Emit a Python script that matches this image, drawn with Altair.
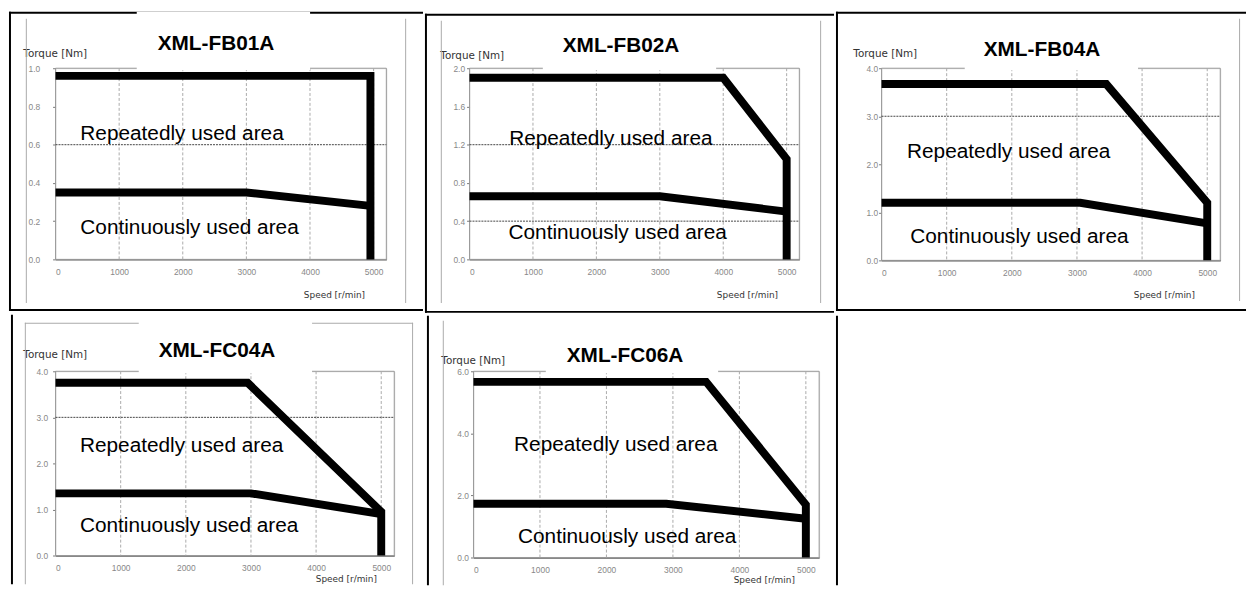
import altair as alt
import pandas as pd

# ---------------- data ----------------
titles = ["XML-FB01A", "XML-FB02A", "XML-FB04A", "XML-FC04A", "XML-FC06A"]

# repeatedly used (peak) torque boundary
rep_speed = [[0, 4950, 4950], [0, 4000, 5000, 5000], [0, 3450, 5000, 5000],
             [0, 2950, 5000, 5000], [0, 3500, 5000, 5000]]
rep_torque = [[0.96, 0.96, 0.0], [1.9, 1.9, 1.05, 0.0], [3.67, 3.67, 1.2, 0.0],
              [3.75, 3.75, 0.95, 0.0], [5.66, 5.66, 1.7, 0.0]]
# continuously used (rated) torque boundary
cont_speed = [[0, 3000, 4950], [0, 3000, 5000], [0, 3050, 5000],
              [0, 3000, 5000], [0, 2900, 5000]]
cont_torque = [[0.35, 0.35, 0.28], [0.66, 0.66, 0.5], [1.2, 1.2, 0.77],
               [1.35, 1.35, 0.9], [1.73, 1.73, 1.25]]

y_max = [1.0, 2.0, 4.0, 4.0, 6.0]
y_step = [0.2, 0.4, 1.0, 1.0, 2.0]
dash_levels = [[0.6], [1.2, 0.4], [3.0], [3.0], []]
grid_speeds = [1000, 2000, 3000, 4000, 5000]
speed_ticks = [0, 1000, 2000, 3000, 4000, 5000]
x_max = 5200

label_rep = "Repeatedly used area"
label_cont = "Continuously used area"
rep_label_speed = [390, 625, 391, 375, 611]
rep_label_torque = [0.625, 1.2, 2.125, 2.245, 3.43]
cont_label_speed = [390, 615, 441, 375, 670]
cont_label_torque = [0.133, 0.217, 0.36, 0.5, 0.48]

y_title = "Torque [Nm]"
x_title = "Speed [r/min]"

# ---------------- layout (pixels) ----------------
W = [334, 333, 342, 342, 349]
H = [193, 193, 194, 186, 188]
L = [47, 45, 46, 45, 47]      # view left inside table cell
T = [57, 55, 57, 57, 56]      # view top inside table cell
CW = [418, 413, 414, 418, 415]
CH = [302, 302, 302, 272, 272]
row1 = [True, True, True, False, False]
right_border = [False, False, False, False, True]

title_xy = [(162, -24), (153, -22), (162, -18), (163, -20), (153, -15)]
ytitle_xy = [(-33, -15), (-30, -13), (-29, -15), (-33, -17), (-33, -11)]
xtitle_xy = [(312, 35), (311, 35), (316, 34), (324, 23), (324, 22)]
ylab_pad = [13, 2, 1, 5, 2]
# white patch behind the title (x1, x2, y1, y2)
gap_rect = [(82, 257, -57, 2), (74, 249, -45, 2), (84, 259, -45, 2),
            (84, 259, -52, 2), (73, 247, -45, 2)]
# faint grey scan frame pieces (x1, x2, y1, y2)
scan_lines = [
    [(-30, -29, -50, 237), (353, 354, -50, 237)],
    [(-29, -28, -48, 237), (354, 355, -48, 237)],
    [(361, 362, -50, 235)],
    [(-31, -30, -49, 215), (360, 361, -49, 215), (-31, 361, -49, -48)],
    [(-31, -30, -51, 216)],
]

LABEL_FONT = "Liberation Sans"
one = pd.DataFrame({"k": [0]})


def box(x1, x2, y1, y2, color, opacity=1.0):
    return alt.Chart(one).mark_rect(color=color, opacity=opacity, strokeWidth=0).encode(
        x=alt.value(x1), x2=alt.value(x2), y=alt.value(y1), y2=alt.value(y2))


def panel(i):
    xs = alt.Scale(domain=[0, x_max], nice=False, zero=False)
    ys = alt.Scale(domain=[0, y_max[i]], nice=False, zero=False)
    yvals = [round(k * y_step[i], 2) for k in range(int(round(y_max[i] / y_step[i])) + 1)]
    x_axis = alt.Axis(values=speed_ticks, format="d", grid=False, ticks=False,
                      labelPadding=8, labelFont=LABEL_FONT, labelFontSize=8.5,
                      labelColor="#888", domainColor="#666", domainWidth=1.5,
                      title=x_title, titleFont="DejaVu Sans", titleFontSize=9,
                      titleFontWeight="normal", titleColor="#333",
                      titleAlign="right", titleBaseline="middle", titleAngle=0,
                      titleX=xtitle_xy[i][0], titleY=xtitle_xy[i][1])
    y_axis = alt.Axis(values=yvals, format=".1f", grid=False, domain=False,
                      tickSize=3, tickColor="#777", labelPadding=ylab_pad[i],
                      labelFont=LABEL_FONT, labelFontSize=8.5, labelColor="#888",
                      title=y_title, titleFont="DejaVu Sans", titleFontSize=10.5,
                      titleFontWeight="normal", titleColor="#333",
                      titleAlign="left", titleBaseline="middle", titleAngle=0,
                      titleX=ytitle_xy[i][0], titleY=ytitle_xy[i][1])

    def X(field="speed:Q"):
        return alt.X(field, scale=xs, axis=x_axis)

    def Y(field="torque:Q"):
        return alt.Y(field, scale=ys, axis=y_axis)

    layers = []
    # cell extent (invisible) defines the table cell
    layers.append(box(-L[i], CW[i] - L[i], -T[i], CH[i] - T[i], "white", 0))
    for (a, b, c, d) in scan_lines[i]:
        layers.append(box(a, b, c, d, "#aaa"))

    frame_df = pd.DataFrame({"speed": [0], "speed_end": [x_max],
                             "torque": [0], "torque_end": [y_max[i]]})
    layers.append(alt.Chart(frame_df).mark_rect(fillOpacity=0, stroke="#999", strokeWidth=1).encode(
        x=X(), x2="speed_end:Q", y=Y(), y2="torque_end:Q"))

    grid_df = pd.DataFrame({"speed": grid_speeds})
    layers.append(alt.Chart(grid_df).mark_rule(color="#aaa", strokeWidth=1, strokeDash=[3, 2]).encode(
        x=X(), y=alt.value(0), y2=alt.value(H[i])))

    if dash_levels[i]:
        dash_df = pd.DataFrame({"torque": dash_levels[i]})
        layers.append(alt.Chart(dash_df).mark_rule(color="#444", strokeWidth=1, strokeDash=[2, 1]).encode(
            y=Y(), x=alt.value(0), x2=alt.value(W[i])))

    # table borders
    layers.append(box(-L[i], -L[i] + 2, -T[i], CH[i] - T[i], "black"))
    if row1[i]:
        layers.append(box(-L[i], CW[i] - L[i], -T[i], -T[i] + 2, "black"))
        layers.append(box(-L[i], CW[i] - L[i], CH[i] - T[i] - 2, CH[i] - T[i], "black"))
    if right_border[i]:
        layers.append(box(CW[i] - L[i] - 2, CW[i] - L[i], -T[i], CH[i] - T[i], "black"))

    g = gap_rect[i]
    layers.append(box(g[0], g[1], g[2], g[3], "white"))

    curves = pd.DataFrame({
        "speed": rep_speed[i] + cont_speed[i],
        "torque": rep_torque[i] + cont_torque[i],
        "curve": ["rep"] * len(rep_speed[i]) + ["cont"] * len(cont_speed[i]),
        "order": list(range(len(rep_speed[i]))) + list(range(len(cont_speed[i]))),
    })
    layers.append(alt.Chart(curves).mark_line(color="black", strokeWidth=8,
                                              strokeJoin="miter", strokeCap="butt").encode(
        x=X(), y=Y(), detail="curve:N", order="order:Q"))

    ann = pd.DataFrame({"speed": [rep_label_speed[i], cont_label_speed[i]],
                        "torque": [rep_label_torque[i], cont_label_torque[i]],
                        "label": [label_rep, label_cont]})
    layers.append(alt.Chart(ann).mark_text(align="left", baseline="alphabetic", font=LABEL_FONT,
                                           fontSize=21, color="black").encode(
        x=X(), y=Y(), text="label:N"))

    tdf = pd.DataFrame({"label": [titles[i]]})
    layers.append(alt.Chart(tdf).mark_text(align="center", baseline="middle", font=LABEL_FONT,
                                           fontSize=21, fontWeight="bold", color="black").encode(
        x=alt.value(title_xy[i][0]), y=alt.value(title_xy[i][1]), text="label:N"))

    return alt.layer(*layers).properties(width=W[i], height=H[i])


top = alt.hconcat(panel(0), panel(1), panel(2), spacing=0)
bottom = alt.hconcat(panel(3), panel(4), spacing=0)
chart = alt.vconcat(top, bottom, spacing=0).properties(padding=0).configure_view(
    strokeWidth=0).configure(background="white")

chart.save("out.html", embed_options={"renderer": "svg", "actions": False})
